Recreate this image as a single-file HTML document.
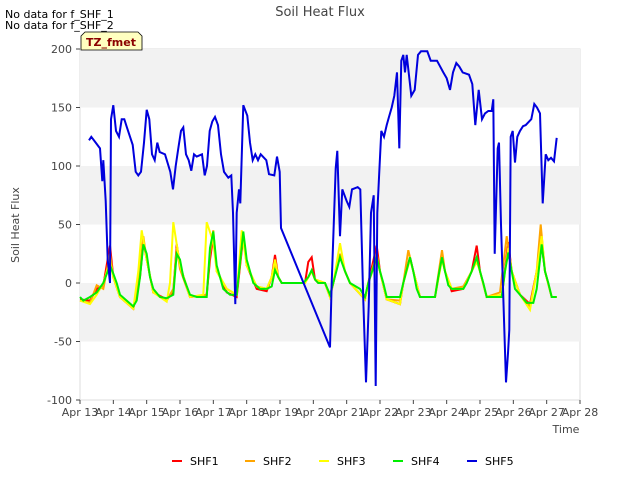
<!DOCTYPE html>
<html><head><meta charset="utf-8"><style>
body{margin:0;background:#fff;font-family:"Liberation Sans",sans-serif}
svg text{font-family:"DejaVu Sans","Liberation Sans",sans-serif}
</style></head><body>
<svg id="c" width="640" height="480" xmlns="http://www.w3.org/2000/svg">
<rect x="0" y="0" width="640" height="480" fill="#fff"/>
<g id="bands"></g>
<g id="axes"></g>
<g id="series"></g>
<text x="320" y="16" text-anchor="middle" font-size="13" fill="#444">Soil Heat Flux</text>
<text x="5" y="18" font-size="11" fill="#000">No data for f_SHF_1</text>
<text x="5" y="29" font-size="11" fill="#000">No data for f_SHF_2</text>
<g><path d="M81,50 L81,36 L85,32 L138,32 L142,36 L142,50 Z" fill="#ffffc0" stroke="#000" stroke-width="0.8"/>
<text x="86" y="46" font-size="11" font-weight="bold" fill="#8b0000">TZ_fmet</text></g>
<text x="19" y="225" font-size="11" fill="#444" text-anchor="middle" transform="rotate(-90 19 225)">Soil Heat Flux</text>
<text x="566" y="433" font-size="11" fill="#444" text-anchor="middle">Time</text>
<g id="legend"></g>
</svg>
<script>
const xTicks=["Apr 13","Apr 14","Apr 15","Apr 16","Apr 17","Apr 18","Apr 19","Apr 20","Apr 21","Apr 22","Apr 23","Apr 24","Apr 25","Apr 26","Apr 27","Apr 28"];
const yTicks=[-100,-50,0,50,100,150,200];
const seriesNames=["SHF1","SHF2","SHF3","SHF4","SHF5"];
const seriesColors=["#ff0000","#ffa500","#ffff00","#00ee00","#0000dd"];
const shf4=[[0,-12],[0.1,-15],[0.3,-12],[0.5,-8],[0.7,0],[0.9,15],[1.0,8],[1.1,0],[1.2,-10],[1.4,-15],[1.6,-20],[1.7,-15],[1.8,5],[1.9,33],[2.0,25],[2.1,5],[2.2,-5],[2.4,-12],[2.6,-13],[2.8,-10],[2.9,25],[3.0,20],[3.1,5],[3.3,-10],[3.5,-12],[3.8,-12],[3.9,30],[4.0,44],[4.1,15],[4.3,-5],[4.5,-10],[4.7,-10],[4.9,44],[5.0,20],[5.2,0],[5.4,-5],[5.6,-5],[5.75,-3],[5.85,11],[5.95,5],[6.05,0],[6.7,0],[6.85,5],[6.95,11],[7.05,3],[7.15,0],[7.35,0],[7.5,-10],[7.6,0],[7.8,22],[7.95,10],[8.1,0],[8.4,-5],[8.55,-12],[8.65,0],[8.9,22],[9.0,10],[9.1,0],[9.2,-12],[9.6,-12],[9.7,0],[9.9,22],[10.0,10],[10.1,-5],[10.2,-12],[10.65,-12],[10.75,5],[10.86,22],[10.95,10],[11.05,-2],[11.15,-5],[11.5,-5],[11.6,0],[11.75,10],[11.9,22],[12.0,10],[12.1,0],[12.2,-12],[12.65,-12],[12.75,10],[12.85,26],[12.95,10],[13.05,-5],[13.2,-10],[13.4,-17],[13.6,-17],[13.7,-5],[13.85,33],[13.95,10],[14.05,0],[14.15,-12],[14.3,-12]];
const shf1=[[0,-14],[0.3,-15],[0.5,-5],[0.7,-2],[0.9,32],[1.0,5],[1.2,-12],[1.6,-22],[1.8,5],[1.9,35],[2.0,20],[2.2,-8],[2.6,-14],[2.8,-8],[2.9,33],[3.0,15],[3.3,-12],[3.8,-10],[3.9,20],[4.0,40],[4.1,12],[4.4,-8],[4.7,-12],[4.9,40],[5.0,15],[5.3,-5],[5.6,-7],[5.75,5],[5.85,24],[5.95,5],[6.05,0],[6.75,0],[6.85,18],[6.95,22],[7.05,3],[7.15,0],[7.35,0],[7.5,-12],[7.6,0],[7.8,25],[7.95,10],[8.1,0],[8.55,-14],[8.65,0],[8.9,32],[9.0,10],[9.2,-14],[9.6,-18],[9.7,0],[9.9,22],[10.0,10],[10.2,-12],[10.65,-12],[10.86,22],[10.95,10],[11.15,-7],[11.5,-5],[11.75,10],[11.9,32],[12.0,10],[12.2,-12],[12.65,-12],[12.85,35],[12.95,10],[13.2,-10],[13.5,-18],[13.7,10],[13.85,33],[13.95,10],[14.15,-12],[14.3,-12]];
const shf2=[[0,-15],[0.3,-17],[0.5,-2],[0.7,-5],[0.9,25],[1.0,5],[1.2,-12],[1.6,-22],[1.8,10],[1.9,40],[2.0,20],[2.2,-8],[2.6,-15],[2.8,-5],[2.9,30],[3.0,12],[3.3,-12],[3.8,-10],[3.9,25],[4.0,45],[4.1,10],[4.4,-5],[4.7,-10],[4.9,42],[5.0,15],[5.3,-3],[5.6,-5],[5.75,5],[5.85,15],[5.95,5],[6.05,0],[6.75,0],[6.95,10],[7.05,3],[7.35,0],[7.5,-12],[7.6,0],[7.8,25],[7.95,10],[8.1,0],[8.55,-14],[8.65,0],[8.9,25],[9.0,10],[9.2,-14],[9.6,-15],[9.7,0],[9.85,28],[10.0,10],[10.2,-12],[10.65,-12],[10.86,28],[10.95,10],[11.15,-5],[11.5,-3],[11.75,10],[11.9,20],[12.0,10],[12.2,-12],[12.6,-8],[12.8,40],[12.95,10],[13.2,-10],[13.5,-20],[13.7,10],[13.82,50],[13.95,10],[14.15,-12],[14.3,-12]];
const shf3=[[0,-15],[0.3,-18],[0.5,-10],[0.7,0],[0.9,18],[1.0,5],[1.2,-12],[1.6,-22],[1.75,10],[1.85,45],[2.0,20],[2.2,-8],[2.6,-16],[2.7,0],[2.8,52],[3.0,15],[3.3,-12],[3.7,-10],[3.8,52],[4.0,35],[4.1,10],[4.4,-5],[4.7,-10],[4.85,45],[5.0,15],[5.3,-3],[5.6,-5],[5.75,5],[5.85,20],[5.95,5],[6.05,0],[6.75,0],[6.95,10],[7.05,3],[7.35,0],[7.5,-12],[7.6,0],[7.8,34],[7.95,10],[8.1,0],[8.55,-14],[8.65,0],[8.9,20],[9.0,10],[9.2,-14],[9.6,-18],[9.7,0],[9.9,20],[10.0,10],[10.2,-12],[10.65,-12],[10.86,20],[10.95,10],[11.15,-5],[11.5,-5],[11.75,10],[11.9,18],[12.0,10],[12.2,-12],[12.65,-10],[12.85,30],[12.95,10],[13.2,-10],[13.5,-23],[13.7,10],[13.85,40],[13.95,10],[14.15,-12],[14.3,-12]];
const shf5=[[0.27,122],[0.34,125],[0.47,120],[0.6,115],[0.67,87],[0.7,105],[0.77,70],[0.83,20],[0.9,0],[0.93,140],[1.0,152],[1.08,130],[1.17,125],[1.25,140],[1.33,140],[1.42,132],[1.58,118],[1.67,95],[1.75,92],[1.83,95],[1.92,120],[2.0,148],[2.08,140],[2.16,110],[2.24,105],[2.32,120],[2.39,112],[2.55,110],[2.71,95],[2.79,80],[2.87,100],[2.95,115],[3.03,130],[3.1,133],[3.18,110],[3.26,105],[3.34,96],[3.42,110],[3.5,108],[3.66,110],[3.74,92],[3.81,100],[3.89,130],[3.97,138],[4.05,142],[4.14,135],[4.23,110],[4.32,95],[4.45,90],[4.54,92],[4.59,60],[4.66,-18],[4.7,60],[4.77,80],[4.81,68],[4.9,152],[5.02,143],[5.1,120],[5.18,105],[5.26,110],[5.34,105],[5.42,110],[5.59,105],[5.67,93],[5.83,92],[5.91,108],[5.99,95],[6.03,47],[7.5,-55],[7.55,0],[7.67,98],[7.72,113],[7.8,40],[7.87,80],[8.0,70],[8.08,65],[8.16,80],[8.33,82],[8.41,80],[8.5,-15],[8.58,-85],[8.66,-20],[8.73,60],[8.81,75],[8.87,-88],[8.92,60],[8.97,90],[9.04,130],[9.12,125],[9.2,135],[9.27,142],[9.35,150],[9.43,160],[9.51,180],[9.58,115],[9.64,190],[9.7,195],[9.75,180],[9.8,195],[9.94,160],[10.04,165],[10.14,195],[10.23,198],[10.42,198],[10.52,190],[10.71,190],[10.9,180],[11.0,175],[11.1,165],[11.19,180],[11.29,188],[11.38,185],[11.48,180],[11.67,178],[11.77,170],[11.86,135],[11.96,165],[12.06,140],[12.15,145],[12.25,147],[12.35,147],[12.4,157],[12.44,25],[12.53,115],[12.57,120],[12.63,50],[12.78,-85],[12.84,-60],[12.88,-40],[12.92,125],[12.98,130],[13.05,103],[13.12,125],[13.2,130],[13.29,134],[13.37,135],[13.54,140],[13.63,153],[13.71,150],[13.8,145],[13.88,68],[13.97,110],[14.05,105],[14.13,107],[14.22,104],[14.3,124]];
const allSeries=[shf1,shf2,shf3,shf4,shf5];
const X0=80,X1=580,Y0=400,Y1=49;
function xs(d){return X0+(X1-X0)*d/15;}
function ys(v){return Y0-(Y0-Y1)*(v+100)/300;}
const NS="http://www.w3.org/2000/svg";
function mk(tag,attrs,parent){const e=document.createElementNS(NS,tag);for(const k in attrs)e.setAttribute(k,attrs[k]);parent.appendChild(e);return e;}
const bands=document.getElementById('bands');
mk('rect',{x:X0,y:Y1,width:X1-X0,height:Y0-Y1,fill:'#fff',stroke:'#ddd'},bands);
for(let v=-50;v<200;v+=100){const r=mk('rect',{x:X0,y:ys(v+50),width:X1-X0,height:ys(v)-ys(v+50),fill:'#f2f2f2'},bands);

}
const axes=document.getElementById('axes');
yTicks.forEach(v=>{const y=ys(v);mk('line',{x1:X0-4,x2:X0,y1:y,y2:y,stroke:'#444'},axes);
const t=mk('text',{x:X0-8,y:y+4,'text-anchor':'end','font-size':11,fill:'#444'},axes);t.textContent=v;

});
xTicks.forEach((s,i)=>{const x=xs(i);mk('line',{x1:x,x2:x,y1:Y0,y2:Y0+4,stroke:'#444'},axes);
const t=mk('text',{x:x,y:Y0+16,'text-anchor':'middle','font-size':11,fill:'#444'},axes);t.textContent=s;

});
const sg=document.getElementById('series');
allSeries.forEach((data,i)=>{const p=mk('polyline',{points:data.map(d=>xs(d[0]).toFixed(1)+','+ys(d[1]).toFixed(1)).join(' '),fill:'none',stroke:seriesColors[i],'stroke-width':2},sg);

});
const lg=document.getElementById('legend');
const lx=[172,245,319,393,467];
seriesNames.forEach((n,i)=>{const g=mk('g',{},lg);


mk('line',{x1:lx[i],x2:lx[i]+10,y1:461,y2:461,stroke:seriesColors[i],'stroke-width':2},g);
const t=mk('text',{x:lx[i]+18,y:465,'font-size':11,fill:'#000'},g);t.textContent=n;});
</script>
</body></html>
